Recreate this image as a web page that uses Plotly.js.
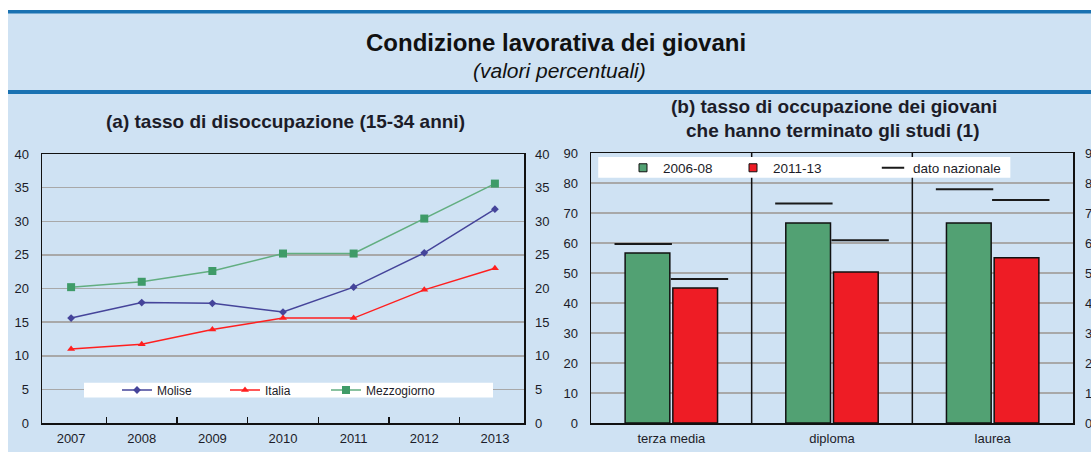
<!DOCTYPE html>
<html>
<head>
<meta charset="utf-8">
<script src="https://cdn.plot.ly/plotly-3.0.1.min.js"></script>
<style>html,body{margin:0;padding:0;background:#fff;}#chart{width:1091px;height:452px;}</style>
</head>
<body>
<div id="chart"></div>
<script>
// ---- data ----
const years = ['2007','2008','2009','2010','2011','2012','2013'];
const molise = [15.6, 17.9, 17.8, 16.5, 20.2, 25.3, 31.8];
const italia = [11.0, 11.7, 13.9, 15.6, 15.6, 19.8, 23.0];
const mezzogiorno = [20.2, 21.0, 22.6, 25.2, 25.2, 30.4, 35.6];

const levels = ['terza media', 'diploma', 'laurea'];
const occ0608 = [56.7, 66.7, 66.7];
const occ1113 = [45.0, 50.3, 55.1];
const naz0608 = [59.7, 73.2, 77.9];
const naz1113 = [48.0, 60.9, 74.3];

const seriesNames = ['Molise', 'Italia', 'Mezzogiorno'];
const periodNames = ['2006-08', '2011-13', 'dato nazionale'];

// ---- geometry helpers (pixels -> paper) ----
const W = 1091, H = 452;
const px = v => v / W;
const py = v => (H - v) / H;
const idx = levels.map((_, i) => i);
const OFF = 0.175;

const txt = '#1c1c28';
const font = {family: 'Liberation Sans, Arial, sans-serif', color: txt};
const green = '#52a173', red = '#ee1c25';

const traces = [
  {x: years, y: molise, name: seriesNames[0], type: 'scatter', mode: 'lines+markers', xaxis: 'x', yaxis: 'y',
   line: {color: '#45449a', width: 1.5}, marker: {symbol: 'diamond', size: 6, color: '#45449a'}, legend: 'legend'},
  {x: years, y: italia, name: seriesNames[1], type: 'scatter', mode: 'lines+markers', xaxis: 'x', yaxis: 'y',
   line: {color: '#ff1f1f', width: 1.5}, marker: {symbol: 'triangle-up', size: 7, color: '#ff1f1f'}, legend: 'legend2'},
  {x: years, y: mezzogiorno, name: seriesNames[2], type: 'scatter', mode: 'lines+markers', xaxis: 'x', yaxis: 'y',
   line: {color: '#62ae80', width: 1.5}, marker: {symbol: 'square', size: 8, color: '#3f9b68'}, legend: 'legend3'},
  {x: [years[0]], y: [0], type: 'scatter', mode: 'markers', xaxis: 'x', yaxis: 'y3', marker: {opacity: 0},
   showlegend: false, hoverinfo: 'skip'},

  {x: idx, y: occ0608, name: periodNames[0], type: 'bar', xaxis: 'x2', yaxis: 'y2', showlegend: false,
   marker: {color: green, line: {color: '#111', width: 1.5}}},
  {x: idx, y: occ1113, name: periodNames[1], type: 'bar', xaxis: 'x2', yaxis: 'y2', showlegend: false,
   marker: {color: red, line: {color: '#111', width: 1.5}}},
  {x: idx.map(i => i - OFF), y: naz0608, name: periodNames[2], type: 'scatter', mode: 'markers', xaxis: 'x2', yaxis: 'y2',
   marker: {symbol: 'line-ew', size: 41, color: '#1a1a1a', line: {color: '#1a1a1a', width: 2}}, legend: 'legend6'},
  {x: idx.map(i => i + OFF), y: naz1113, name: periodNames[2], type: 'scatter', mode: 'markers', xaxis: 'x2', yaxis: 'y2',
   marker: {symbol: 'line-ew', size: 41, color: '#1a1a1a', line: {color: '#1a1a1a', width: 2}}, showlegend: false},
  {x: [idx[0]], y: [0], type: 'scatter', mode: 'markers', xaxis: 'x2', yaxis: 'y4', marker: {opacity: 0},
   showlegend: false, hoverinfo: 'skip'},
  // legend-only entries with small square keys
  {x: [null], y: [null], name: periodNames[0], type: 'scatter', mode: 'markers', xaxis: 'x2', yaxis: 'y2',
   marker: {symbol: 'square', size: 8, color: green, line: {color: '#111', width: 1}}, legend: 'legend4', hoverinfo: 'skip'},
  {x: [null], y: [null], name: periodNames[1], type: 'scatter', mode: 'markers', xaxis: 'x2', yaxis: 'y2',
   marker: {symbol: 'square', size: 8, color: red, line: {color: '#111', width: 1}}, legend: 'legend5', hoverinfo: 'skip'}
];

const tickFont = Object.assign({}, font, {size: 13});
const legFontL = Object.assign({}, font, {size: 12});
const legFontR = Object.assign({}, font, {size: 13.5});

function leg(xpx, ypx, f) {
  return {x: px(xpx), y: py(ypx), xanchor: 'left', yanchor: 'middle', orientation: 'h',
          bgcolor: 'rgba(0,0,0,0)', borderwidth: 0, font: f, itemwidth: 30};
}

const shapes = [
  {type: 'rect', xref: 'paper', yref: 'paper', x0: px(8), x1: 1, y0: 0, y1: py(10), fillcolor: '#cfe2f3', line: {width: 0}, layer: 'below'},
  {type: 'rect', xref: 'paper', yref: 'paper', x0: px(8), x1: 1, y0: py(13.5), y1: py(10), fillcolor: '#1a72b2', line: {width: 0}, layer: 'below'},
  {type: 'rect', xref: 'paper', yref: 'paper', x0: px(8), x1: 1, y0: py(94), y1: py(90), fillcolor: '#1a72b2', line: {width: 0}, layer: 'below'}
];
// separators between categories of panel (b)
for (let i = 1; i < levels.length; i++) {
  shapes.push({type: 'line', xref: 'x2', yref: 'y2 domain', x0: i - 0.5, x1: i - 0.5, y0: 0, y1: 1,
               line: {color: '#111', width: 1.5}, layer: 'above'});
}
// white boxes behind legends
shapes.push({type: 'rect', xref: 'x domain', yref: 'y domain', x0: (84 - 42) / 482, x1: (493 - 42) / 482,
             y0: 0.095, y1: 0.15, fillcolor: '#fff', line: {width: 0}, layer: 'above'});
shapes.push({type: 'rect', xref: 'x2 domain', yref: 'y2 domain', x0: 0.015, x1: 0.87,
             y0: 0.908, y1: 0.985, fillcolor: '#fff', line: {width: 0}, layer: 'above'});

const annotations = [
  {text: '<b>Condizione lavorativa dei giovani</b>', xref: 'paper', yref: 'paper', x: px(556), y: py(43),
   xanchor: 'center', yanchor: 'middle', showarrow: false, font: Object.assign({}, font, {size: 24, color: '#111'})},
  {text: '<i>(valori percentuali)</i>', xref: 'paper', yref: 'paper', x: px(559), y: py(70),
   xanchor: 'center', yanchor: 'middle', showarrow: false, font: Object.assign({}, font, {size: 21, color: '#111'})},
  {text: '<b>(a) tasso di disoccupazione (15-34 anni)</b>', xref: 'paper', yref: 'paper', x: px(285), y: py(122),
   xanchor: 'center', yanchor: 'middle', showarrow: false, font: Object.assign({}, font, {size: 19})},
  {text: '<b>(b) tasso di occupazione dei giovani</b>', xref: 'paper', yref: 'paper', x: px(834), y: py(106),
   xanchor: 'center', yanchor: 'middle', showarrow: false, font: Object.assign({}, font, {size: 19})},
  {text: '<b>che hanno terminato gli studi (1)</b>', xref: 'paper', yref: 'paper', x: px(832), y: py(130),
   xanchor: 'center', yanchor: 'middle', showarrow: false, font: Object.assign({}, font, {size: 19})}
];

const axLine = {showline: true, linecolor: '#111', linewidth: 1.5, mirror: true};
const grid = {showgrid: true, gridcolor: '#a8a8a8', gridwidth: 1.5, zeroline: false};

const layout = {
  width: W, height: H,
  margin: {l: 0, r: 0, t: 0, b: 0},
  paper_bgcolor: '#ffffff', plot_bgcolor: '#ffffff',
  font: font,
  showlegend: true,
  barmode: 'group', bargap: 0.406, bargroupgap: 0.063,
  xaxis: Object.assign({domain: [px(42), px(524)], anchor: 'y', type: 'category', tickson: 'boundaries',
    ticks: 'inside', ticklen: 6, tickwidth: 1.5, tickcolor: '#111', showgrid: false, tickfont: tickFont,
    ticklabelstandoff: 3}, axLine),
  yaxis: Object.assign({domain: [1 - 423 / H, 1 - 154 / H], anchor: 'x', range: [0, 40], dtick: 5,
    ticks: '', tickfont: tickFont, ticklabelstandoff: 9}, grid, axLine),
  yaxis3: {overlaying: 'y', side: 'right', anchor: 'x', range: [0, 40], dtick: 5, showgrid: false, zeroline: false,
    ticks: '', tickfont: tickFont, showline: false, ticklabelstandoff: 10},
  xaxis2: Object.assign({domain: [px(591), px(1073)], anchor: 'y2', range: [-0.5, 2.5], tickvals: idx, ticktext: levels,
    ticks: '', showgrid: false, zeroline: false, tickfont: tickFont, ticklabelstandoff: 3}, axLine),
  yaxis2: Object.assign({domain: [1 - 423 / H, 1 - 153 / H], anchor: 'x2', range: [0, 90], dtick: 10,
    ticks: '', tickfont: tickFont, ticklabelstandoff: 9}, grid, axLine),
  yaxis4: {overlaying: 'y2', side: 'right', anchor: 'x2', range: [0, 90], dtick: 10, showgrid: false, zeroline: false,
    ticks: '', tickfont: tickFont, showline: false, ticklabelstandoff: 11},
  legend: leg(117, 390, legFontL),
  legend2: leg(225, 390, legFontL),
  legend3: leg(326, 390, legFontL),
  legend4: leg(623, 168, legFontR),
  legend5: leg(733, 168, legFontR),
  legend6: leg(873, 168, legFontR),
  shapes: shapes,
  annotations: annotations
};

Plotly.newPlot('chart', traces, layout, {displayModeBar: false, staticPlot: true});
</script>
</body>
</html>
